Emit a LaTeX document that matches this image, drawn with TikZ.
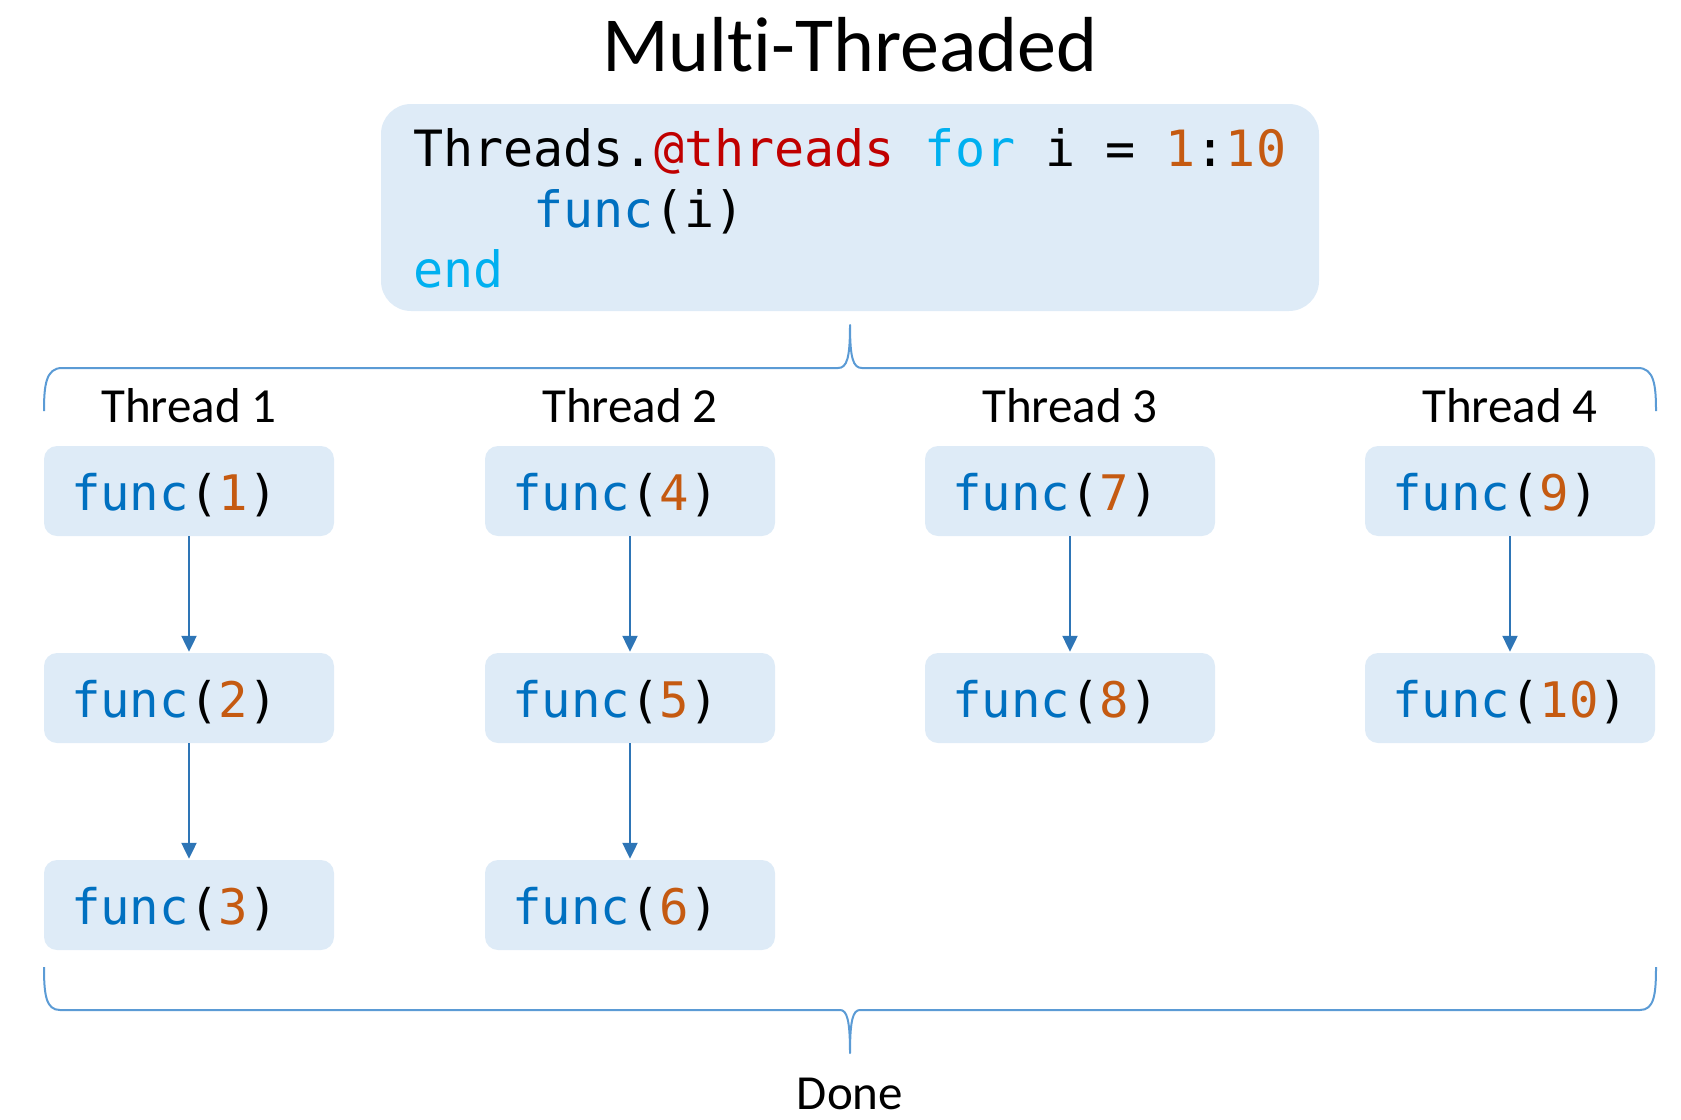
\documentclass[tikz,border=0pt]{standalone}
\usepackage{fontspec}
\setmainfont{Carlito}[Ligatures=NoCommon]
\setmonofont{DejaVu Sans Mono}
\usetikzlibrary{arrows.meta}

\definecolor{boxblue}{HTML}{DEEBF7}
\definecolor{jmacro}{HTML}{C00000}
\definecolor{jkw}{HTML}{00B0F0}
\definecolor{jfun}{HTML}{0070C0}
\definecolor{jnum}{HTML}{C55A11}
\definecolor{arrowblue}{HTML}{2E75B6}
\definecolor{braceblue}{HTML}{5B9BD5}

% func(n) with Julia-style colouring
\newcommand{\fcall}[1]{\textcolor{jfun}{func}(\textcolor{jnum}{#1})}

\tikzset{
  codebox/.style={rectangle, rounded corners=30pt, fill=boxblue,
    minimum width=938pt, minimum height=207pt, inner sep=0pt},
  codeline/.style={anchor=base west, inner sep=0pt,
    font=\ttfamily\fontsize{50}{61}\selectfont},
  callbox/.style={rectangle, rounded corners=13pt, fill=boxblue,
    minimum width=290pt, minimum height=90pt, inner xsep=27pt, inner ysep=0pt,
    text width=236pt, align=left, text height=44pt, text depth=6pt,
    font=\ttfamily\fontsize{49}{58}\selectfont},
  label/.style={anchor=base, inner sep=0pt, font=\fontsize{49}{58}\selectfont},
  titletext/.style={anchor=base, inner sep=0pt, font=\fontsize{78}{90}\selectfont},
  flow/.style={draw=arrowblue, line width=2.2pt,
    -{Triangle[width=15pt,length=16pt]}, shorten >=1pt},
  brace/.style={draw=braceblue, line width=2pt, line join=round}
}

\begin{document}
\begin{tikzpicture}[x=1pt,y=-1pt]
\useasboundingbox (0,0) rectangle (1681,1119);

% title
\node[titletext] (title) at (850,71) {Multi-Threaded};

% source code
\node[codebox] (code) at (850,207.5) {};
\node[codeline] (line1) at (413,166)
  {Threads.\textcolor{jmacro}{@threads} \textcolor{jkw}{for} i = \textcolor{jnum}{1}:\textcolor{jnum}{10}};
\node[codeline] (line2) at (413,227) {\phantom{xxxx}\textcolor{jfun}{func}(i)};
\node[codeline] (line3) at (413,287) {\textcolor{jkw}{end}};

% fork brace
\draw[brace] (44,411) .. controls (44,385) and (46,368) .. (62,368)
  -- (838,368) .. controls (847,368) and (850,358) .. (850,325)
  .. controls (850,358) and (853,368) .. (862,368)
  -- (1638,368) .. controls (1654,368) and (1656,385) .. (1656,411);

% thread headers
\node[label] (t1) at (189,422) {Thread 1};
\node[label] (t2) at (630,422) {Thread 2};
\node[label] (t3) at (1070,422) {Thread 3};
\node[label] (t4) at (1510,422) {Thread 4};

% calls per thread
\node[callbox] (f1) at (189,491) {\fcall{1}};
\node[callbox] (f2) at (189,698) {\fcall{2}};
\node[callbox] (f3) at (189,905) {\fcall{3}};
\node[callbox] (f4) at (630,491) {\fcall{4}};
\node[callbox] (f5) at (630,698) {\fcall{5}};
\node[callbox] (f6) at (630,905) {\fcall{6}};
\node[callbox] (f7) at (1070,491) {\fcall{7}};
\node[callbox] (f8) at (1070,698) {\fcall{8}};
\node[callbox] (f9) at (1510,491) {\fcall{9}};
\node[callbox] (f10) at (1510,698) {\fcall{10}};

\draw[flow] (f1.south) -- (f2.north);
\draw[flow] (f2.south) -- (f3.north);
\draw[flow] (f4.south) -- (f5.north);
\draw[flow] (f5.south) -- (f6.north);
\draw[flow] (f7.south) -- (f8.north);
\draw[flow] (f9.south) -- (f10.north);

% join brace
\draw[brace] (44,967) .. controls (44,995) and (46,1010) .. (60,1010)
  -- (840,1010) .. controls (847,1010) and (850,1020) .. (850,1053)
  .. controls (850,1020) and (853,1010) .. (860,1010)
  -- (1640,1010) .. controls (1654,1010) and (1656,995) .. (1656,967);

\node[label] (done) at (850,1109) {Done};
\end{tikzpicture}
\end{document}
